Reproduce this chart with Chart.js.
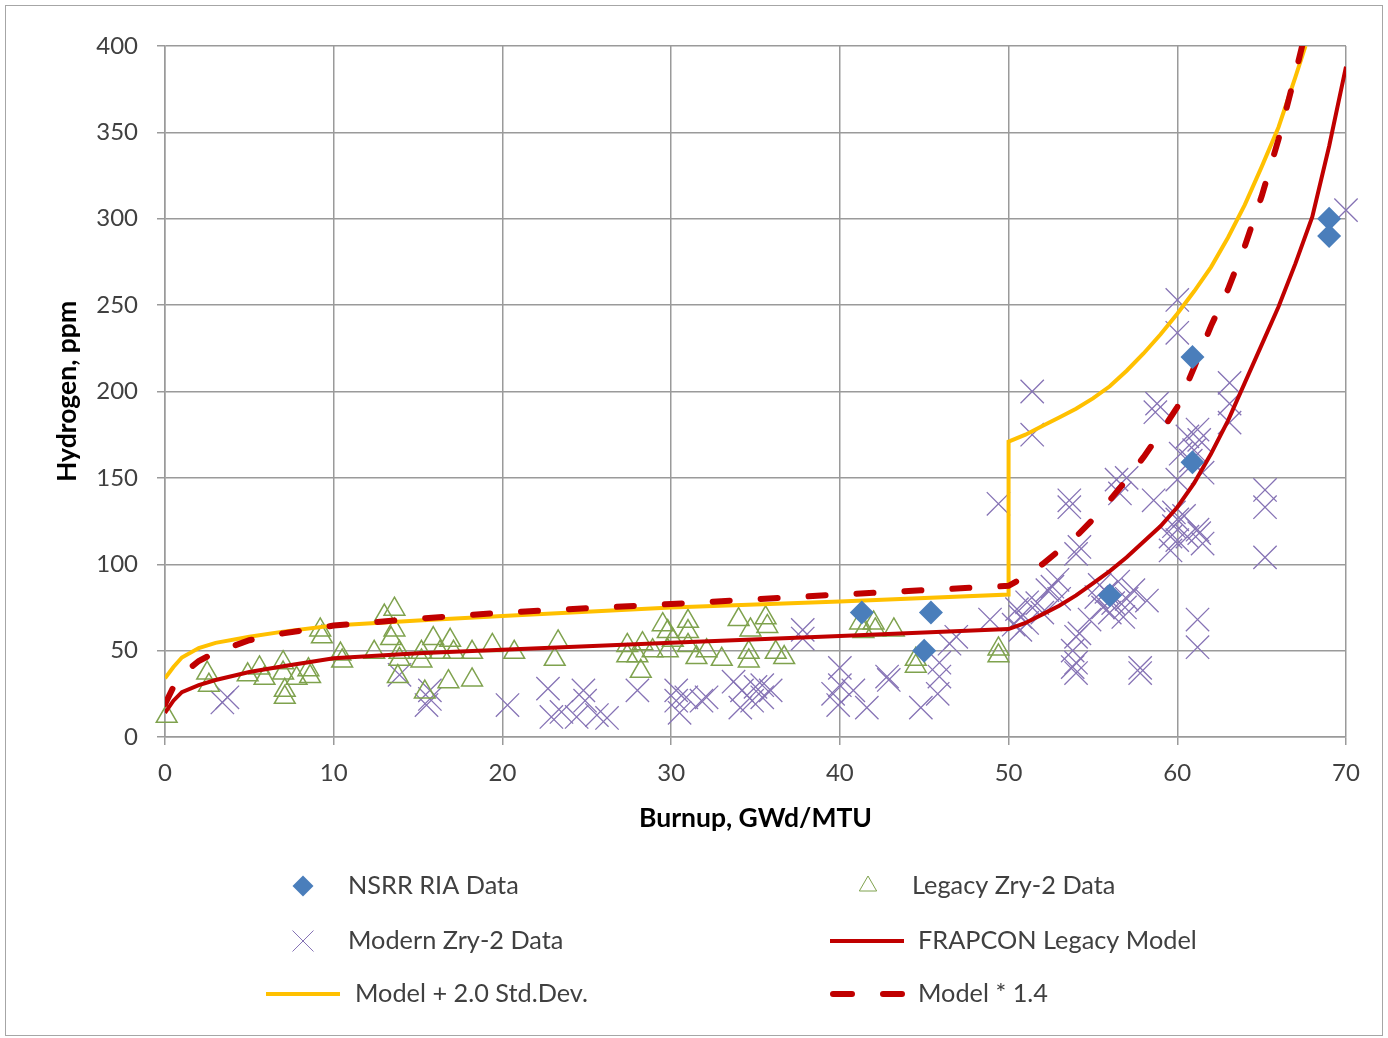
<!DOCTYPE html>
<html>
<head>
<meta charset="utf-8">
<title>Hydrogen vs Burnup</title>
<script src="https://cdn.jsdelivr.net/npm/chart.js@4.4.7/dist/chart.umd.min.js"></script>
<style>
  html, body { margin: 0; padding: 0; background: #fff; }
  #wrap { width: 1388px; height: 1038px; }
</style>
</head>
<body>
<div id="wrap"><canvas id="chart" width="1388" height="1038"></canvas></div>
<script>
// axis ticks
var xTicks = [0, 10, 20, 30, 40, 50, 60, 70];
var yTicks = [0, 50, 100, 150, 200, 250, 300, 350, 400];

// measured data, [burnup GWd/MTU, hydrogen ppm]
var nsrrPoints = [[41.3, 72], [45.4, 72], [45.0, 50], [56.0, 82], [60.9, 159], [60.9, 220], [69.0, 300], [69.0, 290]];

var legacyPoints = [
  [0.1, 12], [2.5, 37], [2.6, 30], [4.9, 36], [5.6, 40], [5.9, 34], [7.0, 43], [7.0, 37], [7.1, 27], [7.1, 23],
  [7.8, 34], [8.5, 39], [8.6, 35], [9.2, 62], [9.3, 58], [10.4, 48], [10.5, 44], [12.4, 49], [13.0, 70], [13.6, 74],
  [13.6, 62], [13.4, 57], [13.9, 49], [13.9, 45], [13.8, 35], [15.2, 49], [15.2, 44], [15.4, 26], [15.9, 57], [16.3, 49],
  [16.9, 56], [17.1, 49], [16.8, 32], [18.2, 49], [18.2, 33], [19.4, 53], [20.7, 49], [23.3, 55], [23.1, 45], [27.4, 53],
  [27.4, 47], [28.0, 47], [28.3, 54], [28.2, 38], [28.9, 50], [29.5, 65], [29.8, 61], [29.8, 50], [30.1, 56], [31.0, 67],
  [31.0, 61], [31.0, 53], [31.5, 46], [32.1, 50], [33.0, 45], [34.0, 68], [34.7, 62], [34.6, 49], [34.6, 44], [35.6, 69],
  [35.7, 64], [36.2, 49], [36.7, 46], [41.2, 66], [41.4, 61], [42.0, 66], [42.1, 62], [43.2, 62], [44.5, 45], [44.5, 41],
  [49.4, 51], [49.4, 47]
];

var modernPoints = [
  [3.4, 20], [3.7, 23], [13.9, 36], [15.5, 18.5], [15.7, 22], [15.7, 27], [20.3, 18.5], [22.7, 28], [22.9, 11.6], [23.5, 14.5],
  [24.4, 11.6], [24.8, 27], [24.9, 21], [25.6, 12.7], [26.2, 11], [28.0, 27], [30.3, 27], [30.3, 21], [30.5, 14], [30.9, 23],
  [31.8, 21], [32.1, 23], [33.7, 32], [34.1, 17], [34.2, 27], [34.8, 21], [35.0, 29], [35.4, 30], [35.4, 23], [35.9, 27],
  [37.8, 62], [37.8, 57], [39.6, 25], [39.9, 18.5], [40.0, 40], [40.0, 30], [40.8, 27], [41.6, 17], [42.8, 35], [42.9, 33],
  [44.8, 17], [45.8, 25], [45.9, 35], [45.9, 43], [46.5, 54], [46.9, 58], [48.9, 68], [49.4, 135], [50.3, 65], [50.5, 74],
  [50.7, 62], [50.7, 69.5], [51.1, 78], [51.1, 66], [51.4, 200], [51.4, 175], [51.7, 77.5], [52.0, 72], [52.3, 85], [52.6, 87],
  [52.9, 91], [53.0, 80], [53.6, 137], [53.6, 133], [53.8, 50], [53.8, 40.5], [54.0, 37], [54.0, 43], [54.0, 58], [54.2, 60],
  [54.2, 110], [54.0, 106], [54.8, 68], [55.2, 81], [55.4, 88], [55.6, 75], [55.8, 84], [56.0, 72], [56.2, 77.5], [56.4, 149],
  [56.5, 90], [56.6, 141], [56.8, 69.5], [56.9, 75], [57.0, 150], [57.0, 80], [57.4, 85], [57.8, 37], [57.8, 40], [58.2, 79],
  [58.6, 137], [58.7, 188], [58.8, 193], [59.6, 116], [59.6, 108], [59.8, 122], [59.8, 130], [60.0, 114], [60.0, 126], [60.0, 149],
  [60.0, 253], [60.0, 234], [60.2, 164], [60.4, 128], [60.6, 116], [60.6, 174], [60.8, 160], [61.0, 166], [61.2, 178], [61.3, 172],
  [61.2, 120], [61.3, 118], [61.5, 153], [61.5, 112], [61.2, 68], [61.2, 52], [63.1, 205], [63.1, 193], [63.1, 182], [65.2, 143],
  [65.2, 133], [65.2, 104], [70.0, 305]
];

// model curves
var frapconBurnup = [0, 0.5, 1, 2, 3, 5, 7, 10, 15, 20, 30, 40, 50, 51, 52, 53, 54, 55, 56, 57, 58, 59, 60, 61, 62, 63, 64, 65, 66, 67, 68, 69, 70];
var frapconH      = [14, 21, 26, 30, 33, 37.6, 41, 45.6, 48.5, 50.5, 54.5, 58.5, 62.5, 66, 71, 76, 82, 89, 96, 104, 113, 122, 133, 147, 164, 183, 205, 227, 249, 274, 301, 342, 388];

var stdDevBurnup = [0, 0.5, 1, 2, 3, 5, 7, 10, 15, 20, 30, 40, 50, 50, 51, 52, 53, 54, 55, 56, 57, 58, 59, 60, 61, 62, 63, 64, 65, 66, 67, 67.6];
var stdDevH      = [34, 40.5, 46, 51.5, 54.5, 58, 61, 64.5, 67.5, 70, 75, 78.5, 82.5, 171, 175, 180, 185, 190, 196, 203, 212, 222, 233, 245, 258, 272, 289, 308, 330, 353, 382, 400];

var scaledBurnup = [0, 0.5, 1, 2, 3, 5, 7, 10, 15, 20, 30, 40, 50, 51, 52, 53, 54, 55, 56, 57, 58, 59, 60, 61, 62, 63, 64, 65, 66, 67, 67.4];
var scaledH      = [19, 29, 36, 44, 49, 56, 60, 64.5, 68.5, 72, 77, 82.5, 87.5, 93, 100, 108, 116, 126, 137, 149, 162, 176, 191, 214, 238, 259, 284, 313, 346, 384, 400];

function toXY(pairs) {
    return pairs.map(function (p) { return { x: p[0], y: p[1] }; });
}
function zipXY(xs, ys) {
    return xs.map(function (x, i) { return { x: x, y: ys[i] }; });
}

var gridColor = "#9a9a9a";
var textColor = "#404040";
Chart.defaults.font.family = "Lato, 'Open Sans', sans-serif";

// white page, thin frame and the two-column legend
var frameLegend = {
    id: "frameLegend",
    beforeDraw: function (chart) {
        var ctx = chart.ctx;
        ctx.save();
        ctx.fillStyle = "#fff";
        ctx.fillRect(0, 0, chart.width, chart.height);
        ctx.strokeStyle = "#a6a6a6";
        ctx.lineWidth = 1;
        ctx.strokeRect(5.5, 5.5, chart.width - 11, chart.height - 8);
        ctx.restore();
    },
    afterDraw: function (chart) {
        var ctx = chart.ctx;
        var byLabel = {};
        chart.data.datasets.forEach(function (d) { byLabel[d.label] = d; });
        var slots = [
            { label: "NSRR RIA Data", mx: 303, tx: 348, y: 886 },
            { label: "Legacy Zry-2 Data", mx: 868, tx: 912, y: 886 },
            { label: "Modern Zry-2 Data", mx: 303, tx: 348, y: 941 },
            { label: "FRAPCON Legacy Model", mx: 867, tx: 918, y: 941 },
            { label: "Model + 2.0 Std.Dev.", mx: 303, tx: 355, y: 994 },
            { label: "Model * 1.4", mx: 867, tx: 918, y: 994 }
        ];
        ctx.save();
        slots.forEach(function (s) {
            var d = byLabel[s.label];
            ctx.beginPath();
            if (d.showLine) {
                ctx.strokeStyle = d.borderColor;
                ctx.lineWidth = d.borderWidth;
                ctx.lineCap = d.borderCapStyle || "butt";
                if (d.borderDash) {
                    ctx.setLineDash([19, 31]);
                    ctx.moveTo(s.mx - 34, s.y);
                    ctx.lineTo(s.mx + 35, s.y);
                } else {
                    ctx.moveTo(s.mx - 37, s.y);
                    ctx.lineTo(s.mx + 37, s.y);
                }
                ctx.stroke();
                ctx.setLineDash([]);
            } else if (d.pointStyle === "rectRot") {
                var r = 10.5;
                ctx.fillStyle = d.backgroundColor;
                ctx.moveTo(s.mx - r, s.y); ctx.lineTo(s.mx, s.y - r);
                ctx.lineTo(s.mx + r, s.y); ctx.lineTo(s.mx, s.y + r);
                ctx.closePath();
                ctx.fill();
            } else if (d.pointStyle === "triangle") {
                var t = 10;
                ctx.strokeStyle = d.borderColor;
                ctx.lineWidth = 1;
                ctx.moveTo(s.mx, s.y - t);
                ctx.lineTo(s.mx + t * 0.866, s.y + t * 0.5);
                ctx.lineTo(s.mx - t * 0.866, s.y + t * 0.5);
                ctx.closePath();
                ctx.stroke();
            } else {
                var c = 10.5;
                ctx.strokeStyle = d.borderColor;
                ctx.lineWidth = 1;
                ctx.moveTo(s.mx - c, s.y - c); ctx.lineTo(s.mx + c, s.y + c);
                ctx.moveTo(s.mx + c, s.y - c); ctx.lineTo(s.mx - c, s.y + c);
                ctx.stroke();
            }
            ctx.fillStyle = textColor;
            ctx.font = "25.3px Lato, 'Open Sans', sans-serif";
            ctx.textAlign = "left";
            ctx.textBaseline = "middle";
            ctx.fillText(s.label, s.tx, s.y);
        });
        ctx.restore();
    }
};

new Chart(document.getElementById("chart"), {
    type: "scatter",
    data: {
        datasets: [
            { label: "NSRR RIA Data", data: toXY(nsrrPoints), pointStyle: "rectRot", pointRadius: 12, backgroundColor: "#4A7EBB", borderColor: "#4A7EBB", borderWidth: 0, order: 0, clip: false },
            { label: "Legacy Zry-2 Data", data: toXY(legacyPoints), pointStyle: "triangle", pointRadius: 12, backgroundColor: "rgba(0,0,0,0)", borderColor: "#7FA24E", borderWidth: 1.5, order: 4, clip: false },
            { label: "Modern Zry-2 Data", data: toXY(modernPoints), pointStyle: "crossRot", pointRadius: 16.5, borderColor: "#8673B5", borderWidth: 1.3, order: 5, clip: false },
            { label: "FRAPCON Legacy Model", data: zipXY(frapconBurnup, frapconH), showLine: true, pointRadius: 0, borderColor: "#C00000", borderWidth: 4, order: 2 },
            { label: "Model + 2.0 Std.Dev.", data: zipXY(stdDevBurnup, stdDevH), showLine: true, pointRadius: 0, borderColor: "#FFC000", borderWidth: 4, order: 3 },
            { label: "Model * 1.4", data: zipXY(scaledBurnup, scaledH), showLine: true, pointRadius: 0, borderColor: "#C00000", borderWidth: 6, borderDash: [17, 31], borderCapStyle: "round", order: 1 }
        ]
    },
    options: {
        responsive: false,
        animation: false,
        events: [],
        layout: { padding: { left: 0, top: 46, right: 42, bottom: 0 } },
        plugins: { legend: { display: false }, tooltip: { enabled: false } },
        scales: {
            x: {
                type: "linear", min: 0, max: 70,
                afterBuildTicks: function (s) { s.ticks = xTicks.map(function (v) { return { value: v }; }); },
                afterFit: function (s) { s.height = 301; },
                ticks: { color: textColor, font: { size: 24 }, padding: 14, maxRotation: 0 },
                grid: { color: gridColor, lineWidth: 1.5, tickLength: 8 },
                border: { color: gridColor, width: 1.5 },
                title: { display: true, text: "Burnup, GWd/MTU", color: "#000", font: { size: 26.5, weight: "bold" }, padding: { top: 0, bottom: 204 } }
            },
            y: {
                type: "linear", min: 0, max: 400,
                afterBuildTicks: function (s) { s.ticks = yTicks.map(function (v) { return { value: v }; }); },
                afterFit: function (s) { s.width = 165; },
                ticks: { color: textColor, font: { size: 24 }, padding: 19 },
                grid: { color: gridColor, lineWidth: 1.5, tickLength: 8 },
                border: { color: gridColor, width: 1.5 },
                title: { display: true, text: "Hydrogen, ppm", color: "#000", font: { size: 26.5, weight: "bold" }, padding: { top: 52, bottom: 0 } }
            }
        }
    },
    plugins: [frameLegend]
});
</script>
</body>
</html>
